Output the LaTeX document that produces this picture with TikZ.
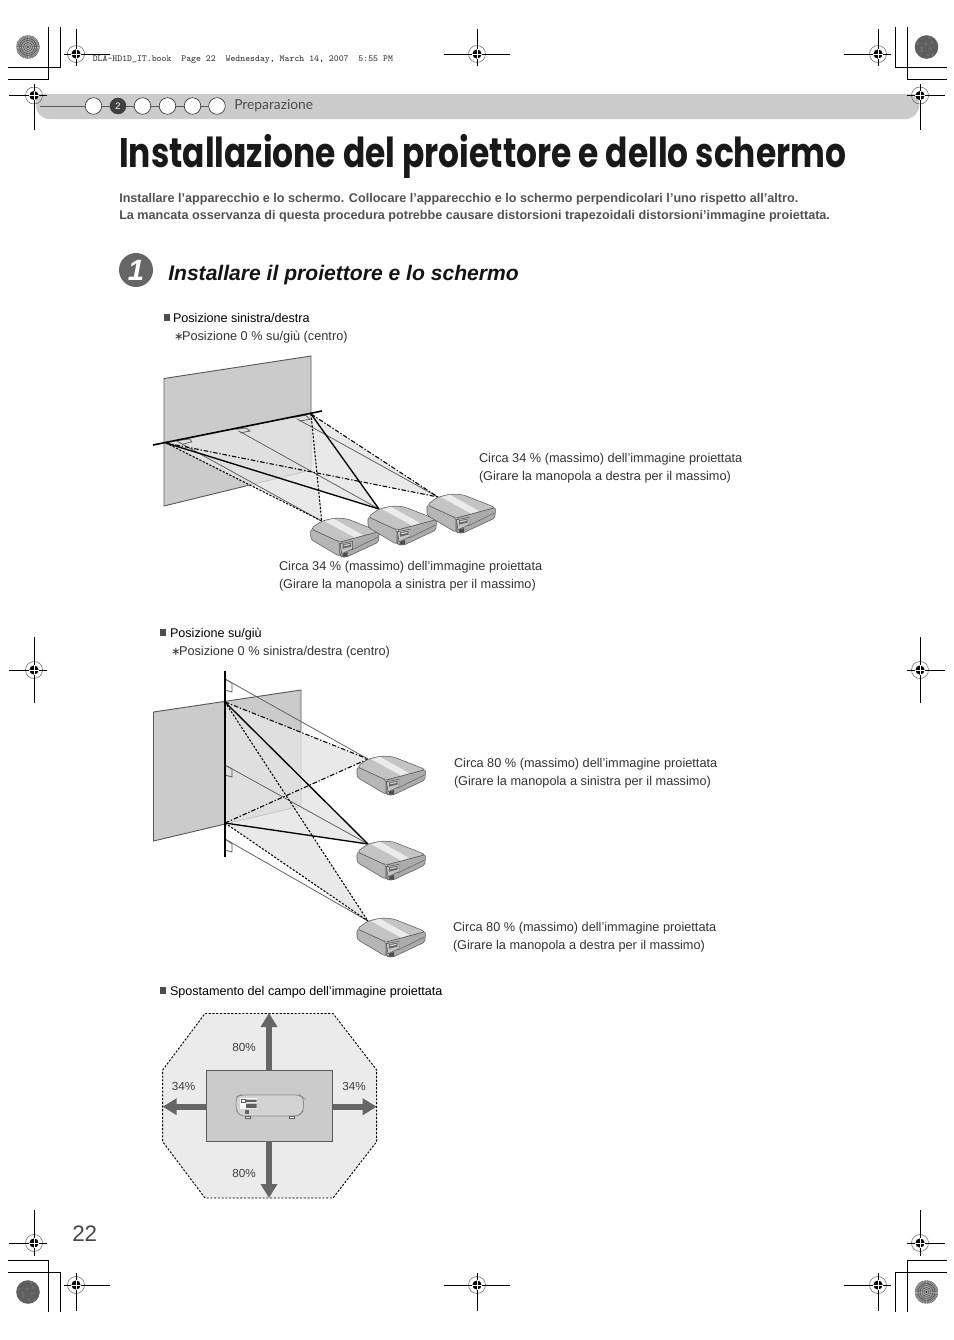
\documentclass[tikz,border=0pt]{standalone}
\usepackage{fontspec}
\setmainfont{Liberation Sans}
\newfontfamily\titlefont{Poppins}
\newfontfamily\barfont{Lato}
\newfontfamily\symfont{DejaVu Sans}
\usetikzlibrary{arrows.meta}
\definecolor{screen}{HTML}{CBCBCB}
\definecolor{edge}{HTML}{5A5A5A}
\definecolor{beam}{HTML}{E4E4E4}
\definecolor{pleft}{HTML}{B6B6B6}
\definecolor{ptop}{HTML}{C4C4C4}
\definecolor{pfront}{HTML}{ABABAB}
\definecolor{arr}{HTML}{666666}
\newcommand{\astmark}{{\symfont\fontsize{8.6pt}{10pt}\selectfont ∗}\kern-1.2pt}
\tikzset{
 x=0.75pt,y=-0.75pt,
 txt/.style={anchor=base west,inner sep=0pt,outer sep=0pt,font=\fontsize{9.55pt}{11pt}\selectfont,text=black!80},
 lab/.style={anchor=base west,inner sep=0pt,outer sep=0pt,font=\fontsize{9.45pt}{11pt}\selectfont,text=black},
 pct/.style={anchor=center,inner sep=0pt,font=\fontsize{8.8pt}{10pt}\selectfont,text=black!75},
 intro/.style={anchor=base west,inner sep=0pt,font=\bfseries\fontsize{9.46pt}{11pt}\selectfont,text=black!68},
 screenbox/.style={fill=screen,draw=edge,line width=.7pt},
 beamfill/.style={fill=beam,fill opacity=.8,draw=none},
 guide/.style={draw=edge,line width=.55pt},
 solidray/.style={draw=black,line width=1pt},
 dotray/.style={draw=black,line width=.8pt,dash pattern=on 1.6pt off 1.2pt},
 dashray/.style={draw=black,line width=.8pt,dash pattern=on 3.4pt off 1.4pt on 1pt off 1.4pt},
 crop/.style={draw=black,line width=.75pt},
 shaftarrow/.style={draw=arr,line width=4.5pt,-{Triangle[length=10.5pt,width=12pt,fill=arr]}},
 ring/.style={circle,draw=black!80,fill=white,line width=.45pt,minimum size=12.4pt,inner sep=0pt},
 pics/projector/.style={code={
  \fill[pfront,draw=edge,line width=.4pt,rounded corners=1.5pt] (18,21) -- (57.5,10.5) -- (57,21) -- (25,36) -- (20,36) -- (18,34) -- cycle;
  \fill[pleft,draw=edge,line width=.4pt,rounded corners=2pt] (-11,7.7) -- (18,21) -- (18,35.5) -- (-11,18.3) -- cycle;
  \fill[ptop,draw=edge,line width=.4pt,rounded corners=2.5pt] (-11,7.7) -- (0,0) -- (13,-3) -- (25,-2.3) -- (57.5,10.5) -- (18,21) -- cycle;
  \fill[white!92!black] (3.3,.3) -- (12,-2.3) -- (41,14) -- (33,16.5) -- cycle;
  \draw[edge,line width=.35pt] (30,29) -- (56.5,16);
  \fill[pfront!70!white,draw=black!70,line width=.35pt] (18.5,22.7) -- (31,20.3) -- (31,27.7) -- (20,32.7) -- cycle;
  \fill[black!60] (21,23.3) -- (29.5,21.7) -- (29.5,25.5) -- (21,27.7) -- cycle;
  \fill[white!80!black] (22,24) -- (28.5,22.8) -- (28.5,24) -- (22,25.3) -- cycle;
  \fill[black!70] (21,32.7) -- (26,31) -- (26,35.5) -- (21,35.5) -- cycle;
 }},
}
\newcommand{\regmark}[6]{%
 \begin{scope}[shift={(#1,#2)}]
  \draw[black!60,line width=.4pt] (0,0) circle[radius=8.5];
  \draw[black,line width=.75pt] (-#3,0) -- (#4,0) (0,-#5) -- (0,#6);
  \fill[black] (0,0) circle[radius=4.6];
  \draw[white,line width=.4pt] (-4.6,0) -- (4.6,0) (0,-4.6) -- (0,4.6);
 \end{scope}}
\newcommand{\radialdisc}[2]{%
 \begin{scope}
  \clip (#1,#2) circle[radius=11.8];
  \fill[black!55] (#1,#2) circle[radius=11.8];
  \foreach \a in {0,9,...,351}{\draw[black!30,line width=.3pt] (#1,#2) -- ++(\a:12);}
  \foreach \r in {2.5,4.5,6.5,8.5}{\draw[black!75,line width=.3pt] (#1,#2) circle[radius=\r];}
  \fill[black] (#1,#2) circle[radius=.9];
 \end{scope}}
\newcommand{\flatdisc}[2]{%
 \fill[black!63] (#1,#2) circle[radius=11.8];
 \foreach \a/\r in {20/4,80/8,140/6,200/9,260/3,320/7,50/10,170/5,290/10}{\fill[black!56] (#1,#2) ++(\a:\r) circle[radius=1.6];}}
\begin{document}
\begin{tikzpicture}
\useasboundingbox (0,0) rectangle (954,1340);
\fill[white] (0,0) rectangle (954,1340);
% crop marks
\draw[crop] (48,27) -- (48,79) -- (8,79);
\draw[crop] (60.5,27) -- (60.5,67) -- (8,67);
\draw[crop] (895,27) -- (895,67) -- (947,67);
\draw[crop] (907,27) -- (907,79) -- (947,79);
\draw[crop] (8,1260) -- (48,1260) -- (48,1312);
\draw[crop] (8,1272) -- (60.5,1272) -- (60.5,1312);
\draw[crop] (947,1260) -- (907,1260) -- (907,1312);
\draw[crop] (947,1272) -- (895,1272) -- (895,1312);
\radialdisc{28}{47}
\flatdisc{926.5}{47}
\flatdisc{28}{1292}
\radialdisc{926.5}{1292}
% top bar
\fill[screen,rounded corners=10] (36,94) -- (36,119) -- (919,119) -- (919,94) -- cycle;
\fill[screen] (36,94) rectangle (46,104);
\fill[screen] (909,94) rectangle (919,104);
\regmark{76}{54}{12}{34}{25}{12}
\regmark{477}{54}{33}{33}{25}{12}
\regmark{878}{54}{34}{13}{25}{12}
\regmark{34}{95.5}{25}{13}{12}{34}
\regmark{920}{95.5}{13}{25}{12}{34}
\regmark{34}{670}{25}{13}{33}{33}
\regmark{920}{670}{13}{25}{33}{33}
\regmark{34}{1243}{25}{13}{33}{13}
\regmark{920}{1243}{13}{25}{33}{13}
\regmark{76}{1285}{12}{34}{12}{26}
\regmark{477}{1285}{33}{33}{12}{26}
\regmark{878}{1285}{34}{13}{12}{26}
\node[anchor=base west,inner sep=0pt,font=\ttfamily\fontsize{6.95pt}{8pt}\selectfont,text=black!80] (bookline) at (92.5,61.5) {DLA-HD1D\_IT.book\ \ Page 22\ \ Wednesday, March 14, 2007\ \ 5:55 PM};
\coordinate (barstart) at (40,106);
\coordinate (barend) at (210,106);
\draw[edge,line width=.6pt] (barstart) -- (barend);
\node[ring] (c1) at (93.5,106) {};
\node[circle,fill=black!75,minimum size=12.4pt,inner sep=0pt,text=white,font=\fontsize{7pt}{8pt}\selectfont\rmfamily] (c2) at (118,106) {2};
\node[ring] (c3) at (142.5,106) {};
\node[ring] (c4) at (167.5,106) {};
\node[ring] (c5) at (192.5,106) {};
\node[ring] (c6) at (217,106) {};
\node[anchor=base west,inner sep=0pt,font=\barfont\fontsize{10.35pt}{12pt}\selectfont,text=black!70] (section) at (234,109.5) {Preparazione};
% title
\node[anchor=base west,inner sep=0pt,text=black!90] (title) at (119,167) {\resizebox{545pt}{24.8pt}{\titlefont\bfseries Installazione del proiettore e dello schermo}};
\node[intro] (intro1) at (119,202) {Installare l’apparecchio e lo schermo. Collocare l’apparecchio e lo schermo perpendicolari l’uno rispetto all’altro.};
\node[intro] (intro2) at (119,219) {La mancata osservanza di questa procedura potrebbe causare distorsioni trapezoidali distorsioni’immagine proiettata.};
\node[circle,fill=black!60,minimum size=25.5pt,inner sep=0pt,text=white,font=\bfseries\itshape\fontsize{22pt}{24pt}\selectfont] (stepno) at (136,270) {1};
\node[anchor=base west,inner sep=0pt,font=\bfseries\itshape\fontsize{15.82pt}{18pt}\selectfont,text=black!92] (heading) at (168,280) {Installare il proiettore e lo schermo};
% section 1
\fill[black!70] (163.5,314) rectangle (170,320.5);
\node[lab] (s1a) at (173,322) {Posizione sinistra/destra};
\node[txt] (s1b) at (174,340) {\astmark Posizione 0 \% su/giù (centro)};
\coordinate (a1) at (164,378.5);
\coordinate (a2) at (311,356);
\coordinate (a3) at (311,470);
\coordinate (a4) at (164,506);
\filldraw[screenbox] (a1) -- (a2) -- (a3) -- (a4) -- cycle;
\coordinate (L) at (166,443);
\coordinate (R) at (311,414);
\coordinate (P1) at (321.7,521);
\coordinate (P2) at (379,509);
\coordinate (P3) at (438,497);
\fill[beamfill] (L) -- (P1) -- (R) -- cycle (L) -- (P2) -- (R) -- cycle (L) -- (P3) -- (R) -- cycle;
\draw[guide] (176.7,441) -- (P1);
\draw[guide] (238.3,430.7) -- (P2);
\draw[guide] (296.7,418.7) -- (P3);
\draw[guide] (176.7,440.7) -- (190,439) -- (191.7,441.7) -- (182.7,444.3);
\draw[guide] (235.7,429.3) -- (246,428) -- (250,431) -- (240,433);
\draw[guide] (294,417.3) -- (305.7,415.3) -- (310,419.3) -- (299.3,421);
\draw[black,line width=1.2pt] (153,445) -- (322,411);
\draw[dotray] (L) -- (P1);
\draw[dotray] (R) -- (P1);
\draw[solidray] (L) -- (P2);
\draw[solidray] (R) -- (P2);
\draw[dashray] (L) -- (P3);
\draw[dashray] (R) -- (P3);
\pic at (P1) {projector};
\pic at (P2) {projector};
\pic at (P3) {projector};
\node[txt] (n1) at (479,462) {Circa 34 \% (massimo) dell’immagine proiettata};
\node[txt] (n2) at (479,480) {(Girare la manopola a destra per il massimo)};
\node[txt] (n3) at (279,570) {Circa 34 \% (massimo) dell’immagine proiettata};
\node[txt] (n4) at (279,588) {(Girare la manopola a sinistra per il massimo)};
% section 2
\fill[black!70] (159.5,629) rectangle (166,635.5);
\node[lab] (s2a) at (170,637) {Posizione su/giù};
\node[txt] (s2b) at (171,655) {\astmark Posizione 0 \% sinistra/destra (centro)};
\coordinate (b1) at (153.5,712);
\coordinate (b2) at (301,690);
\coordinate (b3) at (301,806);
\coordinate (b4) at (153.5,841);
\filldraw[screenbox] (b1) -- (b2) -- (b3) -- (b4) -- cycle;
\coordinate (T) at (225,702);
\coordinate (B) at (225,823);
\coordinate (Q1) at (368,759);
\coordinate (Q2) at (368,844);
\coordinate (Q3) at (368,921);
\fill[beamfill] (T) -- (Q1) -- (B) -- cycle (T) -- (Q2) -- (B) -- cycle (T) -- (Q3) -- (B) -- cycle;
\draw[guide] (225,679) -- (Q1);
\draw[guide] (225,765) -- (Q2);
\draw[guide] (225,839) -- (Q3);
\draw[guide] (225,679) -- (232,683) -- (232,692) -- (225,690);
\draw[guide] (225,765) -- (232,769) -- (232,777) -- (225,775);
\draw[guide] (225,839) -- (232,844) -- (232,852) -- (225,850);
\draw[black,line width=.8pt] (225,671) -- (225,857);
\draw[dashray] (T) -- (Q1);
\draw[dashray] (B) -- (Q1);
\draw[solidray] (T) -- (Q2);
\draw[solidray] (B) -- (Q2);
\draw[dotray] (T) -- (Q3);
\draw[dotray] (B) -- (Q3);
\pic at (Q1) {projector};
\pic at (Q2) {projector};
\pic at (Q3) {projector};
\node[txt] (n5) at (454,767) {Circa 80 \% (massimo) dell’immagine proiettata};
\node[txt] (n6) at (454,785) {(Girare la manopola a sinistra per il massimo)};
\node[txt] (n7) at (453,931) {Circa 80 \% (massimo) dell’immagine proiettata};
\node[txt] (n8) at (453,949) {(Girare la manopola a destra per il massimo)};
% section 3
\fill[black!70] (159.5,987) rectangle (166,993.5);
\node[lab] (s3a) at (170,995) {Spostamento del campo dell’immagine proiettata};
\fill[black!8] (205,1013.5) -- (333,1013.5) -- (376.7,1070) -- (376.7,1141.7) -- (333,1198) -- (205,1198) -- (162.7,1141.7) -- (162.7,1070) -- cycle;
\draw[dotray,line width=.7pt] (205,1013.5) -- (333,1013.5) -- (376.7,1070) -- (376.7,1141.7) -- (333,1198) -- (205,1198) -- (162.7,1141.7) -- (162.7,1070) -- cycle;
\node[draw=edge,fill=screen,line width=.8pt,minimum width=94.5pt,minimum height=53pt,inner sep=0pt] (range) at (269.8,1105.7) {};
\coordinate (tipU) at (269,1013);
\coordinate (tipD) at (269,1198);
\coordinate (tipL) at (162.7,1106.7);
\coordinate (tipR) at (376.7,1106.7);
\draw[shaftarrow] (269,1070) -- (tipU);
\draw[shaftarrow] (269,1141) -- (tipD);
\draw[shaftarrow] (206.7,1106.7) -- (tipL);
\draw[shaftarrow] (333,1106.7) -- (tipR);
\node[pct] (p1) at (244,1047) {80\%};
\node[pct] (p2) at (244,1173.5) {80\%};
\node[pct] (p3) at (183.5,1086) {34\%};
\node[pct] (p4) at (354,1086) {34\%};
\filldraw[fill=screen!85!white,draw=black!45,line width=.6pt,rounded corners=3pt] (236,1097) -- (240,1095) -- (300,1095) -- (303.5,1098) -- (303.5,1111) -- (298,1116) -- (240,1116) -- (236,1110) -- cycle;
\fill[white] (240,1098) rectangle (257,1109);
\fill[black!62] (246,1099.5) rectangle (256.5,1102) (246,1103.5) rectangle (256.5,1108);
\draw[edge,line width=.3pt] (241,1098.8) rectangle (245,1102.5);
\fill[black!60] (245,1110) rectangle (249,1114);
\draw[edge,fill=white,line width=.3pt] (245.5,1116) rectangle (250,1118.5);
\draw[edge,fill=white,line width=.3pt] (289.5,1116) rectangle (294,1118.5);
% page number
\node[anchor=base west,inner sep=0pt,font=\fontsize{16.8pt}{18pt}\selectfont,text=black!72] (page) at (72,1241) {22};
\end{tikzpicture}
\end{document}
